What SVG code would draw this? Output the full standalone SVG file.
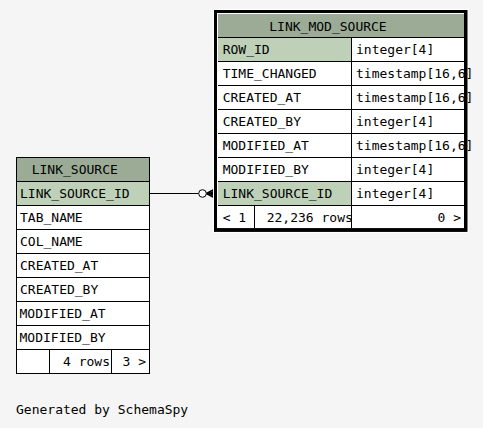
<svg xmlns="http://www.w3.org/2000/svg" width="483" height="428" viewBox="0 0 483 428">
<style>
text{font-family:"DejaVu Sans Mono","Liberation Mono",monospace;font-size:13px;fill:#000}
.hdr{fill:#9bab96}
.key{fill:#bed1b8}
.cell{fill:#ffffff}
.ln{stroke:#000;stroke-width:1;fill:none}
.end{text-anchor:end}
</style>
<defs>
<clipPath id="clipRows"><rect x="255" y="206" width="96" height="22"/></clipPath>
</defs>
<rect width="483" height="428" fill="#f5f5f5"/>
<g id="connectors">
<line class="ln" x1="149.5" y1="193.5" x2="198.7" y2="193.5"/>
<circle cx="202.5" cy="193.5" r="3.8" fill="#ffffff" stroke="#000" stroke-width="1"/>
<path d="M206.5 193.5 L214 189.5 M206.5 193.5 L214 193.5 M206.5 193.5 L214 197.5" stroke="#000" stroke-width="1.5" fill="none"/>
<path d="M208 193.5 L214 190.5 L214 196.5 Z" fill="#000"/>
</g>
<g id="LINK_SOURCE">
<rect class="cell" x="16.5" y="157.5" width="133" height="216"/>
<rect class="hdr" x="17" y="158" width="132" height="23.5"/>
<rect class="key" x="17" y="182" width="132" height="23.5"/>
<rect class="ln" x="16.5" y="157.5" width="133" height="216"/>
<path class="ln" d="M16.5 181.5H149.5M16.5 205.5H149.5M16.5 229.5H149.5M16.5 253.5H149.5M16.5 277.5H149.5M16.5 301.5H149.5M16.5 325.5H149.5M16.5 349.5H149.5M49.5 349.5V373.5M111.5 349.5V373.5"/>
<text x="31.7" y="174">LINK_SOURCE</text>
<text x="20" y="197.5">LINK_SOURCE_ID</text>
<text x="20" y="221.5">TAB_NAME</text>
<text x="20" y="245.5">COL_NAME</text>
<text x="20" y="269.5">CREATED_AT</text>
<text x="20" y="293.5">CREATED_BY</text>
<text x="19.5" y="317.5">MODIFIED_AT</text>
<text x="19.5" y="341.5">MODIFIED_BY</text>
<text class="end" x="110" y="365.5">4 rows</text>
<text class="end" x="146" y="365.5">3 &gt;</text>
</g>
<g id="LINK_MOD_SOURCE">
<rect x="213" y="9" width="255.5" height="224" fill="#ffffff"/>
<rect x="214" y="10" width="253.3" height="221.7" fill="#000"/>
<rect x="217" y="13" width="247" height="215.3" fill="#ffffff"/>
<rect class="hdr" x="218" y="14" width="246" height="23"/>
<rect class="key" x="218" y="38" width="133" height="23"/>
<rect class="key" x="218" y="182" width="133" height="23"/>
<path class="ln" d="M218 37.5H464M218 61.5H464M218 85.5H464M218 109.5H464M218 133.5H464M218 157.5H464M218 181.5H464M218 205.5H464M351.5 37.5V228M254.5 205.5V228"/>
<text x="269.3" y="30.5">LINK_MOD_SOURCE</text>
<text x="222.7" y="53.5">ROW_ID</text>
<text x="222.7" y="77.5">TIME_CHANGED</text>
<text x="222.7" y="101.5">CREATED_AT</text>
<text x="222.7" y="125.5">CREATED_BY</text>
<text x="222.7" y="149.5">MODIFIED_AT</text>
<text x="222.7" y="173.5">MODIFIED_BY</text>
<text x="222.7" y="197.5">LINK_SOURCE_ID</text>
<text x="356" y="53.5">integer[4]</text>
<text x="356" y="77.5">timestamp[16,6]</text>
<text x="356" y="101.5">timestamp[16,6]</text>
<text x="356" y="125.5">integer[4]</text>
<text x="356" y="149.5">timestamp[16,6]</text>
<text x="356" y="173.5">integer[4]</text>
<text x="356" y="197.5">integer[4]</text>
<text x="222.7" y="221.5">&lt; 1</text>
<text x="266.7" y="221.5" clip-path="url(#clipRows)">22,236 rows</text>
<text class="end" x="461" y="221.5">0 &gt;</text>
<path d="M464 10H467.3V231.7H214V228.3H464Z" fill="#000"/>
</g>
<text x="16" y="414">Generated by SchemaSpy</text>
</svg>
